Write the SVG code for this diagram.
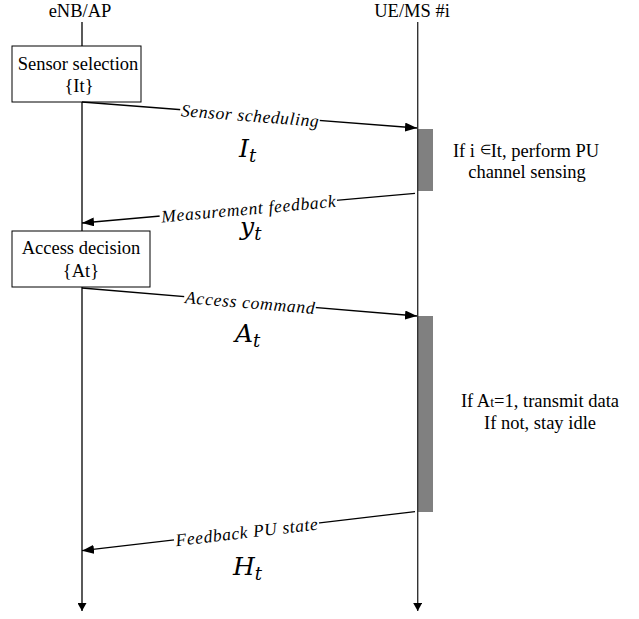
<svg xmlns="http://www.w3.org/2000/svg" width="639" height="619" viewBox="0 0 639 619">
<style>
.t{font-family:"Liberation Serif","Times New Roman",serif;font-size:18.5px;fill:#000}
.lbl{font-family:"Liberation Serif","Times New Roman",serif;font-size:17.5px;font-style:italic;fill:#000}
.m{font-family:"DejaVu Serif","Liberation Serif",serif;font-size:25px;font-style:italic;fill:#000}
.sub{font-size:18px}
.box{fill:#fff;stroke:#000;stroke-width:1}
.msg{stroke:#000;stroke-width:1.3;fill:none}
.bar{fill:#808080}
</style>
<defs>
<marker id="ah" markerUnits="userSpaceOnUse" markerWidth="12" markerHeight="9" refX="12" refY="4.5" orient="auto">
<path d="M0,0 L12,4.5 L0,9 z" fill="#000"/>
</marker>
<marker id="ah2" markerUnits="userSpaceOnUse" markerWidth="9" markerHeight="9" refX="8" refY="4.5" orient="auto">
<path d="M0,0 L8,4.5 L0,9 z" fill="#000"/>
</marker>
</defs>

<g id="lifeline-enb">
<text class="t" x="80" y="17" text-anchor="middle">eNB/AP</text>
<line x1="82" y1="22" x2="82" y2="611" stroke="#000" stroke-width="1.3" marker-end="url(#ah2)"/>
</g>
<g id="lifeline-ue">
<text class="t" x="412" y="17" text-anchor="middle">UE/MS #i</text>
<rect class="bar" x="418" y="129" width="15" height="62"/>
<rect class="bar" x="418" y="316" width="15" height="196"/>
<line x1="417.7" y1="22" x2="417.7" y2="611" stroke="#333" stroke-width="1.4" marker-end="url(#ah2)"/>
</g>

<g id="node-sensor-selection">
<rect class="box" x="12" y="46" width="129" height="56"/>
<text class="t" x="78" y="70" text-anchor="middle">Sensor selection</text>
<text class="t" x="79" y="92" text-anchor="middle">{It}</text>
</g>
<g id="node-access-decision">
<rect class="box" x="12" y="231" width="138" height="56"/>
<text class="t" x="81" y="254" text-anchor="middle">Access decision</text>
<text class="t" x="81" y="277" text-anchor="middle">{At}</text>
</g>

<g id="note-sensing">
<text class="t" x="526" y="157" text-anchor="middle">If i <tspan font-size="13" dy="-3">∈</tspan><tspan dy="3">It, perform PU</tspan></text>
<text class="t" x="527" y="177.5" text-anchor="middle">channel sensing</text>
</g>
<g id="note-transmit">
<text class="t" x="540" y="407" text-anchor="middle">If A<tspan font-size="14">t</tspan>=1, transmit data</text>
<text class="t" x="540" y="429" text-anchor="middle">If not, stay idle</text>
</g>

<g id="connectors">
<line class="msg" x1="82" y1="102" x2="417" y2="128" marker-end="url(#ah)"/>
<line class="msg" x1="415" y1="193.3" x2="82" y2="223" marker-end="url(#ah)"/>
<line class="msg" x1="82" y1="288" x2="417" y2="316" marker-end="url(#ah)"/>
<line class="msg" x1="415" y1="511.7" x2="82" y2="550.7" marker-end="url(#ah)"/>

<g transform="translate(250,115) rotate(4.44)">
<rect x="-70" y="-9" width="140" height="16" fill="#fff"/>
<text class="lbl" x="0" y="6.5" text-anchor="middle" textLength="138" lengthAdjust="spacing">Sensor scheduling</text>
</g>
<g transform="translate(248.3,208.2) rotate(-5.1)">
<rect x="-89" y="-9" width="178" height="16" fill="#fff"/>
<text class="lbl" x="0" y="6.5" text-anchor="middle" textLength="175" lengthAdjust="spacing">Measurement feedback</text>
</g>
<g transform="translate(250,302) rotate(4.78)">
<rect x="-66" y="-9" width="132" height="16" fill="#fff"/>
<text class="lbl" x="0" y="6.5" text-anchor="middle" textLength="130" lengthAdjust="spacing">Access command</text>
</g>
<g transform="translate(246.5,531.4) rotate(-6.68)">
<rect x="-73" y="-9" width="146" height="16" fill="#fff"/>
<text class="lbl" x="0" y="6.5" text-anchor="middle" textLength="143" lengthAdjust="spacing">Feedback PU state</text>
</g>

<text class="m" x="239" y="157">I<tspan class="sub" dy="5">t</tspan></text>
<text class="m" x="240" y="235">y<tspan class="sub" dy="5">t</tspan></text>
<text class="m" x="235" y="341.7">A<tspan class="sub" dy="5">t</tspan></text>
<text class="m" x="233" y="575">H<tspan class="sub" dy="5">t</tspan></text>
</g>
</svg>
